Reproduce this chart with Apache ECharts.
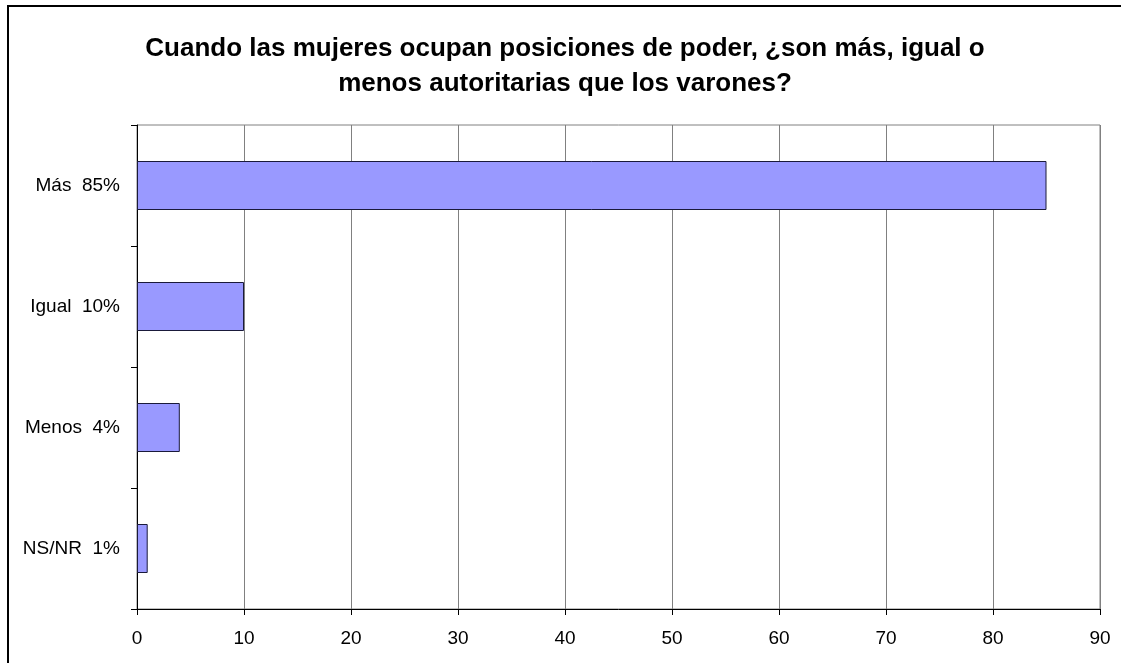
<!DOCTYPE html>
<html><head><meta charset="utf-8">
<script src="https://cdn.jsdelivr.net/npm/echarts@6/dist/echarts.min.js"></script>
<style>html,body{margin:0;padding:0;background:#fff}#c{width:1121px;height:663px}</style>
</head><body><div id="c"></div>
<script>
const titleText = 'Cuando las mujeres ocupan posiciones de poder, ¿son más, igual o\nmenos autoritarias que los varones?';
const categories = ['Más  85%', 'Igual  10%', 'Menos  4%', 'NS/NR  1%'];
const values = [85, 10, 4, 1];
const xTicks = [0, 10, 20, 30, 40, 50, 60, 70, 80, 90];

const chart = echarts.init(document.getElementById('c'), null, {renderer: 'canvas'});
chart.setOption({
  animation: false,
  backgroundColor: '#fff',
  textStyle: {fontFamily: 'Liberation Sans, Arial, sans-serif'},
  title: {
    text: titleText,
    left: 560, top: 26, textAlign: 'center',
    textStyle: {fontFamily: 'Liberation Sans, Arial, sans-serif', fontSize: 26, fontWeight: 'bold', color: '#000', lineHeight: 35}
  },
  graphic: [{
    type: 'rect', silent: true,
    shape: {x: 8, y: 6, width: 1130, height: 700},
    style: {fill: 'none', stroke: '#000', lineWidth: 2}
  }],
  grid: {left: 137, right: 21, top: 125, bottom: 54, show: true, borderColor: '#808080', borderWidth: 1, backgroundColor: 'transparent'},
  xAxis: {
    type: 'value', min: 0, max: 90, interval: 10,
    axisLine: {show: true, lineStyle: {color: '#000', width: 1}},
    axisTick: {show: true, length: 6, lineStyle: {color: '#000'}},
    axisLabel: {color: '#000', fontSize: 19, margin: 20, fontFamily: 'Liberation Sans, Arial, sans-serif',
      formatter: v => xTicks.includes(v) ? String(v) : ''},
    splitLine: {show: true, lineStyle: {color: '#808080', width: 1}}
  },
  yAxis: {
    type: 'category', data: categories, inverse: true,
    axisLine: {show: true, onZero: false, lineStyle: {color: '#000', width: 1}},
    axisTick: {show: true, length: 6, alignWithLabel: false, lineStyle: {color: '#000'}},
    axisLabel: {color: '#000', fontSize: 19, margin: 17, fontFamily: 'Liberation Sans, Arial, sans-serif'},
    splitLine: {show: false}
  },
  series: [{
    type: 'bar', data: values, barWidth: 49,
    itemStyle: {color: '#9999FF', borderColor: '#1a1a3a', borderWidth: 1}
  }]
});
</script></body></html>
